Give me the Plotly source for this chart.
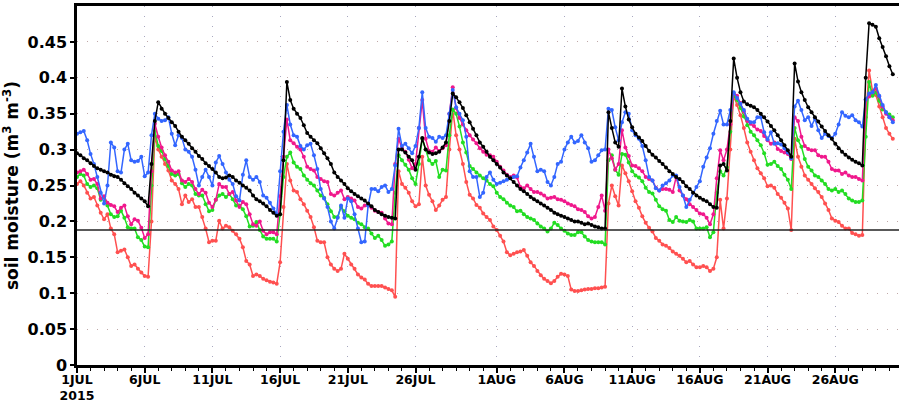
import pandas as pd
import plotly.graph_objects as go

start = "2015-07-01"
n_points = 242  # 6-hourly samples

black_vals = [
    0.295, 0.292, 0.288, 0.285, 0.281, 0.277, 0.274, 0.272, 0.27, 0.268,
    0.265, 0.263, 0.262, 0.258, 0.253, 0.249, 0.245, 0.24, 0.236, 0.232,
    0.228, 0.221, 0.28, 0.34, 0.366, 0.357, 0.35, 0.344, 0.338, 0.333,
    0.325, 0.318, 0.313, 0.308, 0.302, 0.297, 0.291, 0.287, 0.281, 0.277,
    0.273, 0.268, 0.262, 0.26, 0.261, 0.264, 0.262, 0.257, 0.254, 0.25,
    0.247, 0.243, 0.236, 0.231, 0.228, 0.225, 0.221, 0.216, 0.212, 0.208,
    0.21, 0.285, 0.394, 0.369, 0.357, 0.35, 0.344, 0.334, 0.323, 0.318,
    0.313, 0.309, 0.302, 0.295, 0.288, 0.28, 0.268, 0.262, 0.257, 0.252,
    0.246, 0.242, 0.238, 0.235, 0.232, 0.229, 0.225, 0.221, 0.216, 0.213,
    0.21, 0.208, 0.206, 0.205, 0.204, 0.3, 0.3, 0.296, 0.29, 0.285,
    0.272, 0.29, 0.316, 0.3, 0.296, 0.294, 0.295, 0.297, 0.303, 0.31,
    0.34, 0.378, 0.373, 0.366, 0.358, 0.348, 0.338, 0.329, 0.32, 0.31,
    0.304, 0.297, 0.29, 0.285, 0.28, 0.275, 0.268, 0.264, 0.26, 0.255,
    0.25, 0.245, 0.242, 0.238, 0.234, 0.231, 0.228, 0.225, 0.222, 0.219,
    0.216, 0.212, 0.21, 0.208, 0.206, 0.204, 0.202, 0.2, 0.2, 0.198,
    0.196, 0.197, 0.195, 0.193, 0.192, 0.19, 0.19, 0.352, 0.33, 0.31,
    0.304, 0.385, 0.36, 0.342, 0.331, 0.322, 0.317, 0.312, 0.305, 0.298,
    0.293, 0.289, 0.284, 0.28, 0.275, 0.27, 0.266, 0.262, 0.259, 0.255,
    0.249, 0.245, 0.24, 0.236, 0.233, 0.23, 0.228, 0.224, 0.22, 0.219,
    0.278, 0.28, 0.271, 0.34, 0.427, 0.4, 0.38, 0.367, 0.363, 0.361,
    0.359, 0.355, 0.35, 0.345, 0.339, 0.333, 0.327, 0.32, 0.313, 0.306,
    0.299, 0.29, 0.42, 0.395, 0.38, 0.369, 0.359, 0.352, 0.345, 0.339,
    0.332, 0.326, 0.32, 0.315, 0.308, 0.302, 0.297, 0.293, 0.289, 0.286,
    0.283, 0.281, 0.278, 0.4, 0.476, 0.474, 0.471, 0.455, 0.443, 0.43,
    0.416, 0.405,
]

blue_vals = [
    0.322, 0.324, 0.326, 0.313, 0.294, 0.28, 0.262, 0.24, 0.225, 0.25,
    0.31, 0.303, 0.27, 0.268, 0.3, 0.308, 0.285, 0.283, 0.284, 0.29,
    0.263, 0.268, 0.32, 0.35, 0.343, 0.34, 0.341, 0.345, 0.322, 0.306,
    0.32, 0.316, 0.3, 0.297, 0.29, 0.272, 0.25, 0.262, 0.272, 0.262,
    0.25, 0.282, 0.291, 0.28, 0.268, 0.258, 0.252, 0.235, 0.229, 0.265,
    0.285, 0.262, 0.258, 0.262, 0.255, 0.236, 0.233, 0.226, 0.218, 0.21,
    0.27, 0.325, 0.362, 0.335, 0.32, 0.318, 0.305, 0.3, 0.306, 0.308,
    0.292, 0.273, 0.245, 0.232, 0.22, 0.2, 0.19, 0.205, 0.222, 0.205,
    0.232, 0.228, 0.21, 0.19, 0.171, 0.172, 0.222, 0.245, 0.245, 0.242,
    0.248, 0.25, 0.241, 0.245, 0.278, 0.329, 0.305, 0.308, 0.302, 0.295,
    0.305, 0.33, 0.38, 0.33, 0.318, 0.316, 0.311, 0.318, 0.316, 0.32,
    0.35, 0.383, 0.359, 0.35, 0.341, 0.318, 0.27, 0.262, 0.262, 0.234,
    0.24, 0.262, 0.268, 0.258, 0.252, 0.254, 0.256, 0.258, 0.26, 0.262,
    0.263, 0.275, 0.285, 0.296, 0.308, 0.29, 0.27, 0.272, 0.27, 0.255,
    0.25, 0.262, 0.28, 0.283, 0.3, 0.31, 0.318, 0.31, 0.312, 0.32,
    0.31, 0.302, 0.283, 0.285, 0.292, 0.299, 0.3, 0.357, 0.355, 0.331,
    0.313, 0.338, 0.352, 0.35, 0.327, 0.32, 0.315, 0.305, 0.285, 0.262,
    0.257, 0.246, 0.243, 0.25, 0.253, 0.257, 0.264, 0.264, 0.248, 0.236,
    0.22, 0.23, 0.24, 0.248, 0.256, 0.276, 0.289, 0.302, 0.322, 0.34,
    0.354, 0.335, 0.335, 0.355, 0.38, 0.372, 0.364, 0.355, 0.343, 0.338,
    0.338, 0.345, 0.345, 0.324, 0.314, 0.324, 0.308, 0.309, 0.307, 0.302,
    0.296, 0.288, 0.36, 0.368, 0.355, 0.341, 0.345, 0.333, 0.343, 0.327,
    0.316, 0.322, 0.319, 0.316, 0.322, 0.335, 0.352, 0.347, 0.345, 0.348,
    0.341, 0.338, 0.332, 0.37, 0.378, 0.38, 0.39, 0.375, 0.362, 0.352,
    0.345, 0.338,
]

magenta_vals = [
    0.268, 0.27, 0.272, 0.266, 0.258, 0.259, 0.252, 0.232, 0.235, 0.226,
    0.223, 0.221, 0.213, 0.219, 0.222, 0.207, 0.196, 0.203, 0.201, 0.191,
    0.177, 0.182, 0.27, 0.336, 0.318, 0.303, 0.292, 0.283, 0.271, 0.268,
    0.27, 0.257, 0.255, 0.259, 0.255, 0.245, 0.238, 0.244, 0.24, 0.226,
    0.22, 0.23, 0.252, 0.248, 0.248, 0.238, 0.241, 0.229, 0.22, 0.227,
    0.224, 0.21, 0.196, 0.194, 0.2, 0.187, 0.182, 0.185, 0.185, 0.182,
    0.235, 0.29, 0.342, 0.313, 0.309, 0.304, 0.3, 0.29, 0.276, 0.273,
    0.271, 0.262, 0.259, 0.256, 0.255, 0.238, 0.236, 0.24, 0.243, 0.231,
    0.234, 0.232, 0.229, 0.22, 0.218, 0.222, 0.222, 0.219, 0.215, 0.213,
    0.212, 0.204, 0.197, 0.196, 0.28, 0.315, 0.302, 0.297, 0.286, 0.274,
    0.28, 0.33, 0.369, 0.315, 0.298, 0.297, 0.303, 0.298, 0.302, 0.306,
    0.35, 0.387, 0.358, 0.344, 0.335, 0.327, 0.32, 0.314, 0.309, 0.302,
    0.297, 0.293, 0.292, 0.29, 0.283, 0.276, 0.271, 0.265, 0.262, 0.264,
    0.261, 0.248, 0.246, 0.25, 0.245, 0.241, 0.241, 0.239, 0.236, 0.232,
    0.233, 0.234, 0.231, 0.23, 0.228, 0.225, 0.223, 0.221, 0.217, 0.216,
    0.213, 0.207, 0.204, 0.206, 0.22, 0.236, 0.215, 0.3, 0.288, 0.272,
    0.28, 0.327, 0.303, 0.291, 0.278, 0.277, 0.274, 0.27, 0.262, 0.259,
    0.257, 0.247, 0.243, 0.245, 0.245, 0.244, 0.241, 0.262, 0.243, 0.236,
    0.231, 0.224, 0.22, 0.216, 0.211, 0.21, 0.205, 0.196, 0.21, 0.26,
    0.299, 0.285, 0.3, 0.335, 0.378, 0.375, 0.365, 0.353, 0.34, 0.336,
    0.333, 0.328, 0.326, 0.319, 0.313, 0.308, 0.31, 0.301, 0.298, 0.296,
    0.294, 0.287, 0.345, 0.34, 0.318, 0.305, 0.301, 0.299, 0.299, 0.292,
    0.29, 0.29, 0.283, 0.273, 0.271, 0.271, 0.266, 0.268, 0.264, 0.262,
    0.262, 0.259, 0.257, 0.369, 0.374, 0.38, 0.385, 0.374, 0.36, 0.35,
    0.345, 0.341,
]

green_vals = [
    0.262, 0.266, 0.264, 0.252, 0.248, 0.25, 0.246, 0.23, 0.234, 0.222,
    0.21, 0.206, 0.207, 0.215, 0.205, 0.192, 0.19, 0.19, 0.178, 0.174,
    0.165, 0.164, 0.25, 0.326, 0.305, 0.298, 0.287, 0.277, 0.266, 0.264,
    0.266, 0.253, 0.248, 0.252, 0.25, 0.238, 0.236, 0.236, 0.224, 0.214,
    0.216, 0.23, 0.236, 0.238, 0.234, 0.238, 0.231, 0.222, 0.222, 0.217,
    0.207, 0.193, 0.194, 0.199, 0.188, 0.179, 0.176, 0.176, 0.176, 0.172,
    0.21, 0.262, 0.29, 0.296, 0.282, 0.276, 0.273, 0.264, 0.258, 0.253,
    0.25, 0.243, 0.236, 0.233, 0.224, 0.214, 0.206, 0.206, 0.22, 0.214,
    0.208, 0.205, 0.203, 0.198, 0.196, 0.192, 0.19, 0.183, 0.177, 0.18,
    0.174, 0.166, 0.168, 0.172, 0.24, 0.292, 0.285, 0.279, 0.272, 0.26,
    0.252, 0.28, 0.315, 0.3, 0.285, 0.28, 0.284, 0.262, 0.272, 0.271,
    0.32, 0.356, 0.35, 0.332, 0.31, 0.296, 0.277, 0.273, 0.268, 0.264,
    0.26, 0.257, 0.252, 0.249, 0.24, 0.234, 0.231, 0.226, 0.222, 0.22,
    0.214, 0.215, 0.21, 0.206, 0.204, 0.202, 0.197, 0.193, 0.19, 0.186,
    0.19, 0.198, 0.195, 0.19, 0.187, 0.183, 0.181, 0.181, 0.185, 0.185,
    0.179, 0.174, 0.172, 0.171, 0.171, 0.171, 0.168, 0.285, 0.292, 0.272,
    0.265, 0.294, 0.293, 0.282, 0.27, 0.264, 0.261, 0.256, 0.247, 0.241,
    0.239, 0.23, 0.221, 0.217, 0.215, 0.202, 0.199, 0.206, 0.201, 0.2,
    0.199, 0.202, 0.2, 0.19, 0.19, 0.19, 0.192, 0.178, 0.185, 0.24,
    0.27, 0.264, 0.275, 0.325, 0.376, 0.369, 0.358, 0.346, 0.334, 0.325,
    0.32, 0.313, 0.306, 0.295, 0.279, 0.28, 0.283, 0.277, 0.273, 0.265,
    0.258, 0.245, 0.33, 0.313, 0.304, 0.287, 0.276, 0.271, 0.264, 0.262,
    0.257, 0.252, 0.245, 0.243, 0.245, 0.241, 0.243, 0.238, 0.232, 0.229,
    0.227, 0.227, 0.229, 0.318, 0.394, 0.375, 0.38, 0.368, 0.356, 0.352,
    0.349, 0.345,
]

red_vals = [
    0.252, 0.256, 0.25, 0.24, 0.232, 0.234, 0.222, 0.212, 0.203, 0.21,
    0.19, 0.182, 0.157, 0.159, 0.161, 0.15, 0.138, 0.14, 0.134, 0.129,
    0.124, 0.123, 0.2, 0.318, 0.3, 0.29, 0.28, 0.271, 0.257, 0.252,
    0.245, 0.224, 0.236, 0.227, 0.231, 0.22, 0.22, 0.206, 0.19, 0.171,
    0.173, 0.173, 0.201, 0.19, 0.194, 0.192, 0.187, 0.182, 0.176, 0.164,
    0.145, 0.14, 0.124, 0.126, 0.124, 0.12, 0.118, 0.116, 0.115, 0.113,
    0.143, 0.22, 0.28, 0.257, 0.243, 0.241, 0.231, 0.224, 0.215, 0.206,
    0.192, 0.173, 0.171, 0.171, 0.15, 0.14, 0.134, 0.131, 0.134, 0.155,
    0.148, 0.14, 0.134, 0.126, 0.122, 0.119, 0.113, 0.11, 0.11, 0.11,
    0.11, 0.108, 0.106, 0.104, 0.095, 0.27, 0.252, 0.247, 0.24, 0.228,
    0.221, 0.224, 0.29, 0.25, 0.237, 0.228, 0.216, 0.222, 0.23, 0.234,
    0.3, 0.355, 0.32, 0.3, 0.28, 0.255, 0.237, 0.232, 0.223, 0.219,
    0.211, 0.206, 0.202, 0.193, 0.188, 0.18, 0.172, 0.157, 0.153, 0.155,
    0.157, 0.158, 0.16, 0.152, 0.143, 0.138, 0.131, 0.125, 0.12, 0.117,
    0.114, 0.117, 0.123, 0.127, 0.126, 0.124, 0.105, 0.103, 0.103, 0.104,
    0.105, 0.106, 0.106, 0.107, 0.107, 0.108, 0.109, 0.225, 0.25, 0.235,
    0.222, 0.278, 0.267, 0.256, 0.242, 0.228, 0.219, 0.207, 0.198, 0.191,
    0.186, 0.177, 0.173, 0.168, 0.166, 0.163, 0.158, 0.155, 0.152, 0.148,
    0.143, 0.145, 0.14, 0.136, 0.136, 0.138, 0.136, 0.131, 0.134, 0.15,
    0.23, 0.19, 0.232, 0.3, 0.375, 0.362, 0.348, 0.33, 0.31, 0.297,
    0.285, 0.274, 0.267, 0.26, 0.249, 0.25, 0.247, 0.238, 0.233, 0.226,
    0.218, 0.188, 0.315, 0.29, 0.276, 0.264, 0.258, 0.252, 0.246, 0.241,
    0.234, 0.225, 0.216, 0.204, 0.201, 0.199, 0.194, 0.19, 0.19, 0.184,
    0.182, 0.18, 0.181, 0.345, 0.41, 0.382, 0.376, 0.36, 0.345, 0.33,
    0.322, 0.315,
]

reference_level = 0.188

x_tick_dates = ["2015-07-01", "2015-07-06", "2015-07-11", "2015-07-16",
                "2015-07-21", "2015-07-26", "2015-08-01", "2015-08-06",
                "2015-08-11", "2015-08-16", "2015-08-21", "2015-08-26"]
x_tick_labels = ["1JUL<br>2015", "6JUL", "11JUL", "16JUL", "21JUL", "26JUL",
                 "1AUG", "6AUG", "11AUG", "16AUG", "21AUG", "26AUG"]
y_tick_vals = [0, 0.05, 0.1, 0.15, 0.2, 0.25, 0.3, 0.35, 0.4, 0.45]
y_tick_labels = ["0", "0.05", "0.1", "0.15", "0.2", "0.25", "0.3", "0.35", "0.4", "0.45"]

times = pd.date_range(start, periods=n_points, freq="6h")

series = [
    ("red", red_vals, "#FF5050"),
    ("green", green_vals, "#22DD22"),
    ("magenta", magenta_vals, "#F0188C"),
    ("blue", blue_vals, "#3366FF"),
    ("black", black_vals, "#000000"),
]

fig = go.Figure()
for name, vals, color in series:
    fig.add_trace(go.Scatter(
        x=times, y=vals, name=name, mode="lines+markers",
        line=dict(color=color, width=1.5),
        marker=dict(color=color, size=4),
        showlegend=False, hoverinfo="skip",
    ))

fig.add_shape(type="line", xref="paper", x0=0, x1=1, yref="y",
              y0=reference_level, y1=reference_level,
              line=dict(color="#222222", width=1.5), layer="above")

font_family = "DejaVu Sans"
fig.update_layout(
    width=899, height=402,
    margin=dict(l=77, r=0, t=6, b=37),
    paper_bgcolor="white", plot_bgcolor="white",
    showlegend=False,
)
fig.update_xaxes(
    type="date",
    range=["2015-07-01 00:00", "2015-08-30 17:00"],
    tickmode="array", tickvals=x_tick_dates, ticktext=x_tick_labels,
    tickfont=dict(family=font_family, size=12.5, color="black", weight="bold"),
    ticks="outside", ticklen=5, tickwidth=1.5, tickcolor="black",
    ticklabelstandoff=-4,
    showline=True, linecolor="black", linewidth=2.5, mirror=True,
    showgrid=True, gridcolor="#a8a8c0", gridwidth=1, griddash="1px,9px",
    minor=dict(tickmode="linear", tick0="2015-07-01", dtick=86400000,
               ticks="outside", ticklen=3, tickcolor="black", tickwidth=1.2,
               showgrid=False),
    zeroline=False, automargin=False,
)
fig.update_yaxes(
    range=[0, 0.5],
    tickmode="array", tickvals=y_tick_vals, ticktext=y_tick_labels,
    tickfont=dict(family=font_family, size=16, color="black", weight="bold"),
    ticks="outside", ticklen=4, tickwidth=1.5, tickcolor="black",
    showline=True, linecolor="black", linewidth=2.5, mirror=False,
    showgrid=True, gridcolor="#c0a8a8", gridwidth=1, griddash="1px,9px",
    zeroline=False, automargin=False,
    title=dict(text="soil moisture (m<sup>3</sup> m<sup>-3</sup>)",
               font=dict(family=font_family, size=17, color="black", weight="bold"),
               standoff=6),
)

fig.write_html("out.html")
